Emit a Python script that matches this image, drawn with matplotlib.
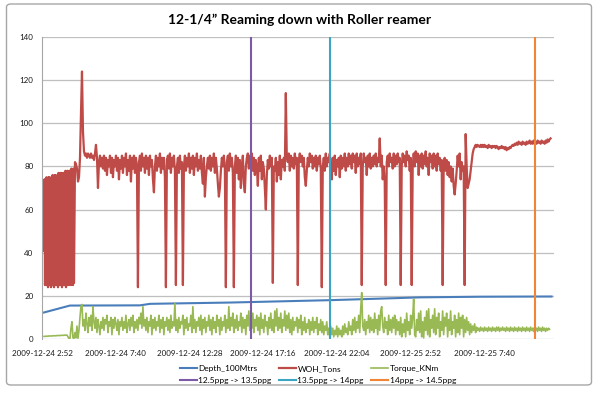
"""12-1/4" reaming down with roller reamer: WOH, torque and depth vs time. """

import numpy as np
import matplotlib
matplotlib.use('Agg')
import matplotlib.pyplot as plt
from matplotlib.patches import FancyBboxPatch

plt.rcParams['font.family'] = ['Lato', 'DejaVu Sans']
# Keep every logged sample: the simplifier merges the back-and-forth swings.
plt.rcParams['path.simplify'] = False

# Time axis: hours after 2009-12-24 2:52, one label every 4 h 48 min.
tick_hours = [0, 4.8, 9.6, 14.4, 19.2, 24.0, 28.8]
tick_labels = ['2009-12-24 2:52', '2009-12-24 7:40', '2009-12-24 12:28',
               '2009-12-24 17:16', '2009-12-24 22:04', '2009-12-25 2:52',
               '2009-12-25 7:40']
x_end = 33.36

# Logged samples are about 4 min apart; the opening block is read at 2 min.
step = 0.0651
step_fine = step / 2
t_block = 0.13
t_main = 2.15
t_torque = 0.13

# WOH_Tons, opening block (reciprocating pipe).
woh_block = [41,
             74, 25, 74, 26, 75, 25, 74, 24, 75, 26, 75, 25, 74, 24, 75, 25,
             76, 26, 75, 24, 76, 25, 76, 26, 75, 25, 76, 24, 77, 25, 76, 26,
             77, 25, 77, 24, 76, 25, 77, 26, 77, 25, 78, 24, 77, 25, 78, 26,
             77, 25, 78, 26, 78, 25, 79, 26, 78, 25, 79, 26]

# WOH_Tons afterwards, one value per sample.
woh_main = [
    82, 81, 79, 73, 75, 84, 105, 124, 96, 87,
    85, 86, 84, 86, 85, 84, 86, 84, 85, 83,
    86, 90, 84, 70, 82, 85, 80, 84, 79, 85,
    78, 84, 76, 83, 80, 85, 77, 84, 75, 83,
    80, 85, 78, 84, 74, 83, 79, 85, 77, 84,
    80, 86, 76, 83, 78, 85, 73, 84, 79, 85,
    77, 84, 80, 24, 82, 85, 78, 86, 80, 84,
    77, 85, 79, 84, 76, 85, 80, 83, 74, 68,
    80, 85, 78, 84, 80, 86, 77, 84, 79, 84,
    75, 24, 83, 85, 79, 86, 77, 84, 80, 85,
    78, 25, 80, 84, 77, 85, 79, 82, 25, 80,
    85, 78, 84, 80, 86, 77, 84, 79, 85, 76,
    84, 80, 86, 78, 83, 79, 85, 77, 72, 84,
    66, 75, 80, 84, 79, 85, 78, 84, 80, 86,
    77, 84, 79, 72, 66, 70, 78, 84, 80, 85,
    79, 24, 82, 85, 78, 86, 80, 84, 77, 24,
    80, 85, 77, 84, 74, 83, 70, 80, 85, 72,
    68, 80, 84, 86, 79, 85, 82, 86, 78, 84,
    76, 83, 80, 71, 84, 78, 85, 74, 82, 79,
    70, 60, 76, 83, 79, 85, 80, 84, 26, 80,
    78, 84, 73, 82, 76, 85, 74, 83, 80, 84,
    78, 114, 84, 82, 86, 78, 85, 80, 84, 79,
    86, 81, 84, 25, 83, 86, 82, 85, 80, 84,
    75, 71, 78, 84, 80, 86, 82, 85, 79, 84,
    80, 85, 78, 84, 81, 85, 79, 24, 80, 84,
    78, 86, 80, 84, 82, 86, 79, 74, 84, 78,
    85, 76, 83, 80, 84, 75, 85, 79, 84, 80,
    86, 78, 84, 80, 86, 81, 85, 79, 86, 82,
    85, 77, 86, 80, 84, 81, 86, 25, 80, 86,
    82, 84, 76, 85, 80, 86, 79, 84, 80, 85,
    81, 86, 80, 84, 82, 93, 80, 85, 74, 80,
    73, 25, 82, 85, 80, 86, 82, 84, 79, 86,
    80, 85, 81, 86, 82, 84, 25, 80, 86, 82,
    85, 80, 87, 83, 85, 78, 84, 25, 80, 86,
    80, 87, 82, 86, 76, 85, 80, 86, 79, 85,
    81, 87, 80, 84, 76, 86, 82, 85, 79, 86,
    80, 85, 78, 86, 81, 84, 78, 83, 25, 80,
    84, 78, 83, 76, 82, 75, 80, 73, 79, 71,
    67, 72, 78, 85, 80, 86, 74, 82, 78, 80,
    25, 95, 80, 70, 72, 74, 78, 82, 86, 88,
    89, 90, 89, 90, 89.5, 89, 90, 89, 90, 89,
    90, 89, 89.5, 88.5, 90, 89, 89.5, 88.5, 89.5, 89,
    89.5, 88.5, 89.5, 89, 88, 89, 88.5, 89.5, 88.5, 89,
    88, 89, 87.5, 88.5, 88, 89, 88.5, 89.5, 90, 89.5,
    90.5, 90, 91, 90, 91.5, 90.5, 91, 90, 91.5, 90.5,
    91, 90, 91.5, 90.5, 91, 92, 90.5, 91.5, 90.5, 92,
    90.5, 91.5, 90.5, 92, 91, 91.5, 90.5, 92, 91, 91.5,
    90.5, 92, 91, 92.5, 91.5, 92.5, 93]

# Torque_KNm, one value per sample.
torque = [
    1.2, 1.2, 1.3, 1.3, 1.3, 1.4, 1.4, 1.4, 1.4, 1.5,
    1.5, 1.5, 1.5, 1.6, 1.6, 1.6, 1.6, 1.7, 1.7, 1.7,
    1.7, 1.8, 1.8, 1.8, 1.0, 0.2, 0.3, 5, 8, 0.5,
    0.3, 3, 0.5, 6, 0.4, 4, 10, 15, 16, 6,
    9, 4, 12, 7, 3, 10, 6, 11, 4, 15,
    8, 5, 10, 3, 9, 6, 2, 8, 5, 10,
    4, 9, 7, 11, 3, 8, 6, 10, 2, 9,
    5, 10, 7, 4, 9, 2, 8, 6, 10, 4,
    8, 5, 11, 3, 7, 9, 4, 10, 6, 11,
    3, 8, 5, 9, 4, 10, 7, 12, 5, 15,
    6, 9, 4, 10, 3, 8, 6, 11, 2, 9,
    5, 10, 4, 8, 6, 11, 3, 9, 5, 10,
    2, 8, 6, 10, 4, 9, 3, 11, 5, 8,
    6, 16.5, 4, 9, 3, 10, 5, 8, 7, 11,
    2, 9, 5, 10, 4, 7, 6, 11, 3, 15,
    5, 9, 3, 8, 6, 10, 4, 11, 2, 9,
    5, 10, 3, 8, 6, 11, 4, 9, 2, 10,
    5, 8, 3, 11, 6, 9, 2, 10, 4, 8,
    6, 11, 3, 9, 5, 15, 4, 10, 6, 12,
    3, 9, 5, 11, 4, 8, 6, 12, 3, 10,
    5, 9, 2, 11, 6, 13, 4, 10, 5, 12,
    3, 9, 6, 11, 4, 10, 2, 12, 5, 9,
    3, 11, 6, 8, 2, 10, 5, 12, 4, 9,
    3, 13, 6, 14, 4, 10, 5, 12, 3, 9,
    6, 13, 4, 11, 5, 12, 3, 9, 2, 10,
    4, 8, 6, 10, 3, 9, 5, 11, 2, 8,
    4, 10, 3, 7, 5, 9, 2, 8, 4, 10,
    3, 8, 5, 10, 2, 7, 4, 9, 3, 8,
    2, 6, 4, 8, 2, 5, 1, 6, 2, 5,
    1, 4, 2, 6, 1, 5, 2, 4, 1, 6,
    2, 7, 3, 5, 2, 8, 4, 6, 2, 9,
    4, 10, 3, 8, 5, 11, 3, 14, 21.5, 6,
    4, 9, 2, 8, 5, 11, 3, 10, 4, 9,
    3, 12, 5, 9, 2, 11, 4, 13, 15, 6,
    3, 10, 5, 8, 2, 11, 4, 9, 3, 10,
    5, 11, 2, 9, 4, 8, 2, 10, 1, 7,
    3, 9, 1, 12, 4, 8, 2, 11, 5, 10,
    18.5, 2, 1, 9, 4, 12, 3, 13, 1, 8,
    0.5, 10, 4, 13, 2, 14, 1, 9, 5, 11,
    3, 14, 2, 10, 5, 12, 1, 8, 4, 13,
    2, 10, 6, 12, 1, 9, 4, 13, 2, 8,
    5, 11, 1, 9, 3, 12, 2, 10, 5, 11,
    1, 9, 3, 10, 4, 8, 2, 7, 3, 6,
    4, 7, 3, 5.5, 4, 5, 3.5, 5.5, 4, 5,
    3.5, 5.5, 4, 5, 3.5, 5.5, 4, 5, 3.5, 5.5,
    4, 5, 3.5, 5.5, 4, 5.5, 3.5, 5, 4, 5.5,
    4, 5, 3.5, 5.5, 4, 5, 3.5, 5.5, 4, 5,
    3.5, 5.5, 4, 5, 3.5, 5.5, 4, 5, 3.5, 5.5,
    4, 5, 3.5, 5.5, 4, 5, 3.5, 5.5, 4, 5,
    3.5, 5.5, 4, 5, 3.5, 5.5, 4, 5, 3.5, 5.5,
    4, 5, 3.5, 5, 4, 5, 4.5]

# Depth_100Mtrs, read at its bends.
depth_hours = [0.13, 1.82, 6.38, 7.04, 12.25, 18.76, 22.87, 24.62, 28.53, 33.2]
depth = [12.3, 15.5, 15.6, 16.3, 16.9, 18.0, 18.9, 19.3, 19.6, 19.7]

# Mud weight changes.
change_hours = [13.6, 18.76, 32.1]
change_labels = ['12.5ppg -> 13.5ppg', '13.5ppg -> 14ppg', '14ppg -> 14.5ppg']
change_colors = ['#7B5AA6', '#3CA5C4', '#F08536']

fig = plt.figure(figsize=(6.0, 3.93), dpi=100)
fig.patches.append(FancyBboxPatch((6.5 / 600, 1 - 385 / 393), 585 / 600, 381 / 393,
                                  boxstyle='round,pad=0,rounding_size=0.008',
                                  transform=fig.transFigure, fill=False,
                                  edgecolor='#a6a6a6', linewidth=1.0))

ax = fig.add_axes([42 / 600, 1 - 339 / 393, 512 / 600, 302 / 393])

t_woh = np.concatenate([t_block + step_fine * np.arange(len(woh_block)),
                        t_main + step * np.arange(len(woh_main))])
woh = woh_block + woh_main
t_tq = t_torque + step * np.arange(len(torque))

h_depth, = ax.plot(depth_hours, depth, color='#4A7EBB', lw=1.5, label='Depth_100Mtrs')
h_woh, = ax.plot(t_woh, woh, color='#BE4B48', lw=1.6, label='WOH_Tons')
h_tq, = ax.plot(t_tq, torque, color='#98B954', lw=1.2, label='Torque_KNm')
h_changes = []
for hour, label, color in zip(change_hours, change_labels, change_colors):
    h, = ax.plot([hour, hour], [0, 140], color=color, lw=1.5, label=label)
    h_changes.append(h)

ax.set_xlim(0, x_end)
ax.set_ylim(0, 140)
ax.set_yticks(range(0, 141, 20))
ax.set_xticks(tick_hours)
ax.set_xticklabels(tick_labels)
ax.grid(axis='y', color='#bfbfbf', lw=0.9)
ax.set_axisbelow(True)
for side in ['top', 'right', 'bottom']:
    ax.spines[side].set_visible(False)
ax.spines['left'].set_color('#a6a6a6')
ax.tick_params(axis='x', length=0, pad=8, labelsize=5.8, colors='#1a1a1a')
ax.tick_params(axis='y', length=0, pad=6, labelsize=5.8, colors='#1a1a1a')

fig.text(0.5, 1 - 20 / 393, '12-1/4\u201d Reaming down with Roller reamer',
         ha='center', va='center', fontsize=10, fontweight='bold')

handles = [h_depth, h_changes[0], h_woh, h_changes[1], h_tq, h_changes[2]]
fig.legend(handles=handles, labels=[h.get_label() for h in handles],
           ncol=3, loc='upper left', bbox_to_anchor=(180 / 600, 1 - 365 / 393),
           frameon=False, fontsize=6, handlelength=2.0, handletextpad=0.2,
           columnspacing=0.9, labelspacing=0.55, borderpad=0, borderaxespad=0)

fig.savefig('out.png', dpi=100)
